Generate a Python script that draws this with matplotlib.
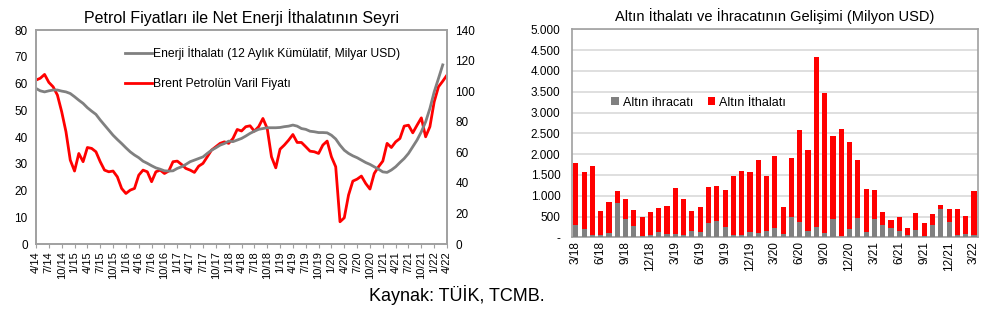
import matplotlib
matplotlib.use("Agg")
import matplotlib.pyplot as plt
import numpy as np

plt.rcParams["font.family"] = ["Liberation Sans", "DejaVu Sans"]

# --- left chart: monthly, 4/14 .. 4/22 ---
months = [f"{m}/{y}" for y in range(14, 23) for m in range(1, 13)][3:100]

energy_imports = [
    58.2, 57.3, 56.9, 57.3, 57.6, 57.6, 57.2, 56.9, 56.3, 55.1, 53.8, 52.6,
    51.0, 49.7, 48.5, 46.4, 44.5, 42.6, 40.7, 39.1, 37.6, 36.0, 34.5, 33.3,
    32.3, 31.0, 30.2, 29.3, 28.5, 28.0, 27.4, 27.3, 27.4, 28.3, 28.9, 29.8,
    30.8, 31.4, 32.0, 32.6, 33.9, 35.1, 36.0, 37.0, 37.6, 38.5, 38.3, 38.9,
    39.5, 40.4, 41.4, 42.2, 42.9, 43.2, 43.5, 43.5, 43.5, 43.6, 43.9, 44.1,
    44.5, 44.1, 43.2, 42.9, 42.2, 42.0, 41.7, 41.7, 41.6, 40.7, 39.3, 37.0,
    35.1, 33.9, 33.0, 32.3, 31.4, 30.5, 29.8, 28.9, 28.0, 27.0, 26.8, 27.7,
    28.9, 30.5, 32.0, 33.9, 36.4, 38.9, 42.0, 45.7, 50.7, 56.9, 61.9, 67.0,
    np.nan,
]

brent = [
    107.3, 108.5, 111.0, 105.8, 102.9, 97.5, 86.6, 73.5, 55.0, 47.8, 59.3, 53.9,
    63.2, 62.6, 60.4, 53.9, 48.4, 47.3, 47.8, 44.0, 36.4, 33.1, 35.3, 36.4,
    45.1, 48.4, 47.3, 40.8, 47.3, 48.4, 46.2, 47.8, 53.9, 54.3, 52.1, 49.5,
    48.4, 46.9, 51.0, 52.8, 57.1, 61.5, 63.7, 65.9, 66.9, 65.9, 69.1, 75.0,
    74.0, 76.8, 77.4, 73.9, 76.8, 82.2, 75.7, 57.1, 49.9, 62.1, 64.8, 68.0,
    71.7, 66.5, 66.5, 63.7, 60.8, 60.4, 59.3, 64.8, 67.4, 57.1, 50.6, 14.6,
    17.2, 32.1, 41.2, 42.5, 44.5, 39.7, 36.0, 46.2, 50.6, 54.3, 65.9, 63.2,
    66.9, 69.1, 77.2, 77.8, 72.8, 77.8, 82.6, 70.2, 76.8, 93.1, 102.9, 106.6,
    110.6,
]

# --- right chart: monthly, 3/18 .. 3/22 (million USD) ---
gold_months = [f"{m}/{y}" for y in range(18, 23) for m in range(1, 13)][2:51]

gold_exports = [
    295, 200, 56, 56, 112, 813, 446, 279, 32, 56, 135, 80,
    80, 56, 151, 128, 335, 398, 247, 56, 56, 120, 104, 151,
    231, 80, 494, 375, 151, 255, 96, 430, 16, 200, 470, 135,
    430, 295, 231, 151, 56, 167, 32, 295, 669, 375, 64, 88,
    64,
]

gold_imports = [
    1785, 1578, 1706, 638, 837, 1116, 932, 654, 494, 598, 693, 749,
    1188, 917, 622, 725, 1211, 1227, 1148, 1474, 1602, 1578, 1849, 1482,
    1953, 733, 1897, 2583, 2105, 4344, 3476, 2447, 2598, 2296, 1865, 1172,
    1132, 598, 414, 486, 223, 574, 343, 558, 781, 677, 677, 502,
    1116,
]

RED = "#ff0000"
GRAY = "#808080"
FRAME = "#a0a0a0"

fig = plt.figure(figsize=(9.89, 3.17), dpi=100)

# left chart
ax = fig.add_axes([0.0364, 0.230, 0.4156, 0.675])
ax2 = ax.twinx()
x = np.arange(len(months))
ax.plot(x, energy_imports, color=GRAY, lw=2.0, label="Enerji İthalatı (12 Aylık Kümülatif, Milyar USD)")
ax2.plot(x, brent, color=RED, lw=2.0, label="Brent Petrolün Varil Fiyatı")
ax.set_xlim(0, len(months) - 1)
ax.set_ylim(0, 80)
ax2.set_ylim(0, 140)
ax.set_yticks(range(0, 81, 10))
ax2.set_yticks(range(0, 141, 20))
ax.set_xticks(x[::3])
ax.set_xticklabels(months[::3], rotation=90, fontsize=8)
ax.tick_params(axis="y", labelsize=8.5, length=0, pad=6)
ax2.tick_params(axis="y", labelsize=8.5, length=0, pad=6)
ax.tick_params(axis="x", length=3, color=FRAME, pad=2)
for a in (ax, ax2):
    for s in a.spines.values():
        s.set_color(FRAME)
        s.set_linewidth(1.2)
ax.set_zorder(ax2.get_zorder() + 1)
ax.patch.set_visible(False)
h1, l1 = ax.get_legend_handles_labels()
h2, l2 = ax2.get_legend_handles_labels()
ax.legend(h1 + h2, l1 + l2, loc="upper left", bbox_to_anchor=(0.19, 0.975), frameon=False,
          fontsize=8.7, handlelength=2.2, handletextpad=0.15, labelspacing=1.45)
ax.set_title("Petrol Fiyatları ile Net Enerji İthalatının Seyri", fontsize=11.5, pad=5)

# right chart
bx = fig.add_axes([0.578, 0.2514, 0.411, 0.656])
gx = np.arange(len(gold_months))
bx.bar(gx, gold_imports, width=0.62, color=RED, label="Altın İthalatı", zorder=2)
bx.bar(gx, gold_exports, width=0.62, color=GRAY, label="Altın ihracatı", zorder=3)
bx.set_xlim(-0.5, len(gold_months) - 0.5)
bx.set_ylim(0, 5000)
yt = list(range(0, 5001, 500))
bx.set_yticks(yt)
bx.set_yticklabels(["-"] + [f"{v:,}".replace(",", ".") for v in yt[1:]], fontsize=8.5)
bx.set_xticks(gx[::3])
bx.set_xticklabels(gold_months[::3], rotation=90, fontsize=8.5)
bx.tick_params(axis="y", length=0, pad=8)
bx.tick_params(axis="x", length=0, pad=3)
bx.grid(axis="y", color="#d9d9d9", lw=1.2, zorder=0)
for s in bx.spines.values():
    s.set_color(FRAME)
    s.set_linewidth(1.2)
hb, lb = bx.get_legend_handles_labels()
bx.legend(hb[::-1], lb[::-1], loc="upper left", bbox_to_anchor=(0.07, 0.73), ncol=2, frameon=False,
          fontsize=9, handlelength=0.6, handleheight=0.6, handletextpad=0.3, columnspacing=1.2)
bx.set_title("Altın İthalatı ve İhracatının Gelişimi (Milyon USD)", fontsize=10.5, pad=6)

fig.text(0.462, 0.05, "Kaynak: TÜİK, TCMB.", fontsize=13, ha="center")

fig.savefig("out.png", dpi=100)
